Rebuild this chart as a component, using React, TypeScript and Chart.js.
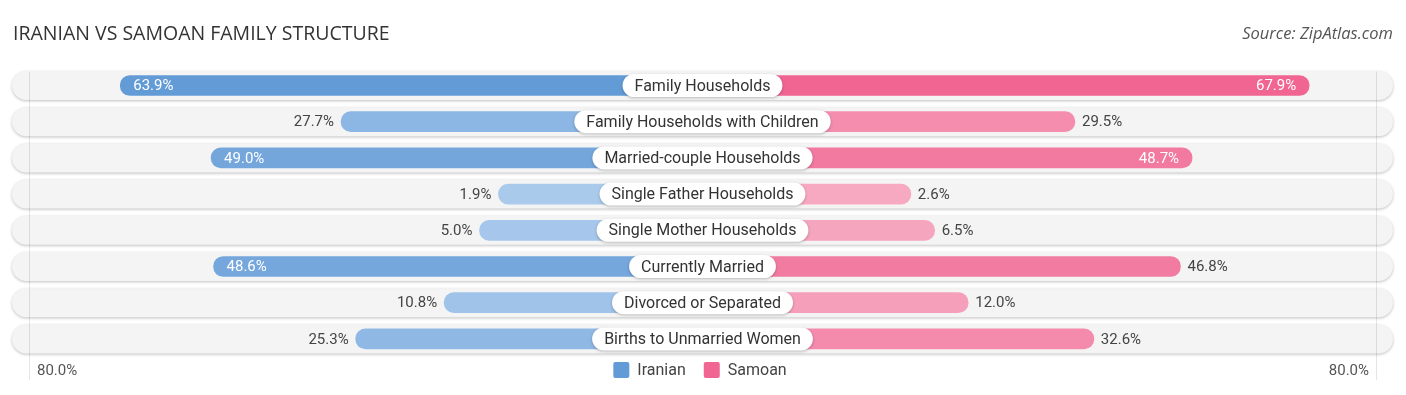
import React, { useEffect, useRef } from 'react';
import { Chart, registerables } from 'chart.js';

Chart.register(...registerables);

const chartTitle = 'IRANIAN VS SAMOAN FAMILY STRUCTURE';
const sourceText = 'Source: ZipAtlas.com';
const categories = [
  'Family Households',
  'Family Households with Children',
  'Married-couple Households',
  'Single Father Households',
  'Single Mother Households',
  'Currently Married',
  'Divorced or Separated',
  'Births to Unmarried Women',
];
const seriesNames = ['Iranian', 'Samoan'];
const iranian = [63.9, 27.7, 49.0, 1.9, 5.0, 48.6, 10.8, 25.3];
const samoan = [67.9, 29.5, 48.7, 2.6, 6.5, 46.8, 12.0, 32.6];
const axisLabelLeft = '80.0%';
const axisLabelRight = '80.0%';

// layout constants (percent units on the x scale)
const OFFSET = 31.56;
const HALF = 113.2;
const GRID = 110.4;
const INSIDE_MIN = 47.5;

const FONT = 'Roboto, "Noto Sans", sans-serif';

function mix(a: number[], b: number[], t: number) {
  const k = Math.max(0, Math.min(1, t));
  const c = a.map((v, i) => Math.round(v + (b[i] - v) * k));
  return `rgb(${c[0]},${c[1]},${c[2]})`;
}
const blueLight = [172, 203, 237];
const blueDark = [99, 155, 215];
const pinkLight = [247, 172, 196];
const pinkDark = [240, 101, 145];
const blueColor = (v: number) => mix(blueLight, blueDark, v / 64);
const pinkColor = (v: number) => mix(pinkLight, pinkDark, v / 68);

function rr(ctx: CanvasRenderingContext2D, x: number, y: number, w: number, h: number, r: number) {
  const rad = Math.min(r, w / 2, h / 2);
  ctx.beginPath();
  ctx.moveTo(x + rad, y);
  ctx.lineTo(x + w - rad, y);
  ctx.arcTo(x + w, y, x + w, y + rad, rad);
  ctx.lineTo(x + w, y + h - rad);
  ctx.arcTo(x + w, y + h, x + w - rad, y + h, rad);
  ctx.lineTo(x + rad, y + h);
  ctx.arcTo(x, y + h, x, y + h - rad, rad);
  ctx.lineTo(x, y + rad);
  ctx.arcTo(x, y, x + rad, y, rad);
  ctx.closePath();
}

const decor = {
  id: 'decor',
  beforeDatasetsDraw(chart: any) {
    const { ctx, scales } = chart;
    const x = scales.x;
    const y = scales.y;
    const l = x.getPixelForValue(-HALF);
    const r = x.getPixelForValue(HALF);
    categories.forEach((_, i) => {
      const cy = y.getPixelForValue(i);
      ctx.save();
      ctx.shadowColor = 'rgba(0,0,0,0.25)';
      ctx.shadowBlur = 3;
      ctx.shadowOffsetY = 1;
      rr(ctx, l, cy - 14.5, r - l, 29, 14.5);
      ctx.fillStyle = '#f4f4f4';
      ctx.fill();
      ctx.restore();
    });
    ctx.save();
    ctx.strokeStyle = 'rgba(0,0,0,0.10)';
    ctx.lineWidth = 1;
    [-GRID, GRID].forEach((g) => {
      const gx = Math.round(x.getPixelForValue(g)) + 0.5;
      ctx.beginPath();
      ctx.moveTo(gx, y.getPixelForValue(0) - 14);
      ctx.lineTo(gx, 380);
      ctx.stroke();
    });
    ctx.restore();
  },
  afterDatasetsDraw(chart: any) {
    const { ctx, scales } = chart;
    const y = scales.y;
    const x = scales.x;
    const m0 = chart.getDatasetMeta(0);
    const m1 = chart.getDatasetMeta(1);
    ctx.save();
    ctx.font = `15px ${FONT}`;
    ctx.textBaseline = 'middle';
    categories.forEach((_, i) => {
      const b0 = m0.data[i];
      const b1 = m1.data[i];
      const v0 = iranian[i];
      const v1 = samoan[i];
      const t0 = v0.toFixed(1) + '%';
      const t1 = v1.toFixed(1) + '%';
      if (v0 >= INSIDE_MIN) {
        ctx.fillStyle = '#ffffff';
        ctx.textAlign = 'left';
        ctx.fillText(t0, b0.x + 13, b0.y + 1);
      } else {
        ctx.fillStyle = '#444444';
        ctx.textAlign = 'right';
        ctx.fillText(t0, b0.x - 7, b0.y + 1);
      }
      if (v1 >= INSIDE_MIN) {
        ctx.fillStyle = '#ffffff';
        ctx.textAlign = 'right';
        ctx.fillText(t1, b1.x - 13, b1.y + 1);
      } else {
        ctx.fillStyle = '#444444';
        ctx.textAlign = 'left';
        ctx.fillText(t1, b1.x + 7, b1.y + 1);
      }
    });
    ctx.restore();

    const cx = x.getPixelForValue(0);
    categories.forEach((c, i) => {
      const cy = y.getPixelForValue(i);
      ctx.save();
      ctx.font = `16px ${FONT}`;
      const w = ctx.measureText(c).width + 24;
      ctx.shadowColor = 'rgba(0,0,0,0.25)';
      ctx.shadowBlur = 3;
      ctx.shadowOffsetY = 1;
      rr(ctx, cx - w / 2, cy - 11.5, w, 23, 11.5);
      ctx.fillStyle = '#ffffff';
      ctx.fill();
      ctx.restore();
      ctx.save();
      ctx.font = `16px ${FONT}`;
      ctx.fillStyle = '#333333';
      ctx.textAlign = 'center';
      ctx.textBaseline = 'middle';
      ctx.fillText(c, cx, cy + 1);
      ctx.restore();
    });
  },
  afterDraw(chart: any) {
    const { ctx } = chart;
    ctx.save();
    ctx.textBaseline = 'alphabetic';
    ctx.font = `19.5px "Open Sans", sans-serif`;
    ctx.fillStyle = '#333333';
    ctx.textAlign = 'left';
    ctx.fillText(chartTitle, 13, 40);
    ctx.font = `italic 16.5px "Open Sans", sans-serif`;
    ctx.fillStyle = '#555555';
    ctx.textAlign = 'right';
    ctx.fillText(sourceText, 1393, 39);

    ctx.font = `15px ${FONT}`;
    ctx.fillStyle = '#555555';
    ctx.textBaseline = 'middle';
    ctx.textAlign = 'left';
    ctx.fillText(axisLabelLeft, 37, 371);
    ctx.textAlign = 'right';
    ctx.fillText(axisLabelRight, 1369, 371);

    ctx.font = `16px ${FONT}`;
    const colors = [blueColor(64), pinkColor(68)];
    const widths = seriesNames.map((s) => ctx.measureText(s).width);
    const total = 16 + 8 + widths[0] + 18 + 16 + 8 + widths[1];
    let lx = 700 - total / 2;
    seriesNames.forEach((s, i) => {
      rr(ctx, lx, 362, 16, 16, 2);
      ctx.fillStyle = colors[i];
      ctx.fill();
      ctx.fillStyle = '#444444';
      ctx.textAlign = 'left';
      ctx.fillText(s, lx + 24, 371);
      lx += 24 + widths[i] + 18;
    });
    ctx.restore();
  },
};

export default function App() {
  const ref = useRef<HTMLCanvasElement>(null);
  useEffect(() => {
    if (!ref.current) return;
    const chart = new Chart(ref.current, {
      type: 'bar',
      data: {
        labels: categories,
        datasets: [
          {
            label: seriesNames[0],
            data: iranian.map((v) => -(v + OFFSET)),
            backgroundColor: iranian.map(blueColor),
            grouped: false,
            barThickness: 20,
            borderRadius: 10,
            borderSkipped: false,
          } as any,
          {
            label: seriesNames[1],
            data: samoan.map((v) => v + OFFSET),
            backgroundColor: samoan.map(pinkColor),
            grouped: false,
            barThickness: 20,
            borderRadius: 10,
            borderSkipped: false,
          } as any,
        ],
      },
      options: {
        indexAxis: 'y',
        responsive: false,
        animation: false,
        layout: { padding: { left: 12, right: 13, top: 67.4, bottom: 38 } },
        scales: {
          x: { type: 'linear', min: -HALF, max: HALF, display: false },
          y: { type: 'category', display: false, offset: true },
        },
        plugins: { legend: { display: false }, tooltip: { enabled: false }, title: { display: false } },
      },
      plugins: [decor],
    });
    return () => chart.destroy();
  }, []);
  return (
    <canvas
      ref={ref}
      width={1406}
      height={395}
      style={{ position: 'fixed', left: 0, top: 0, width: 1406, height: 395, background: '#ffffff' }}
    />
  );
}
